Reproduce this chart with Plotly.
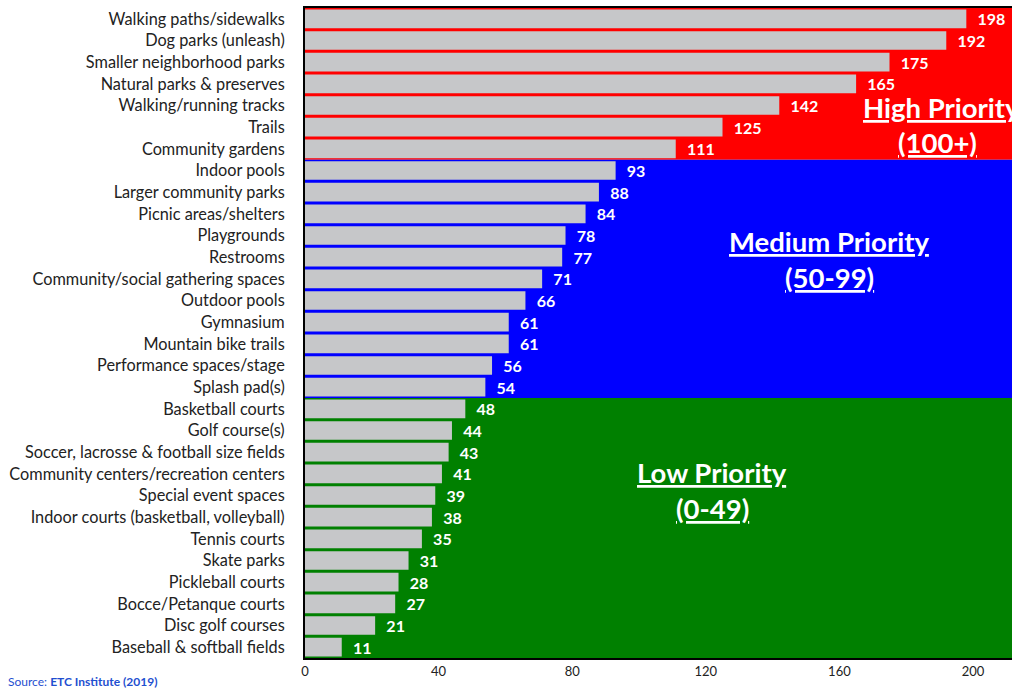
import plotly.graph_objects as go

categories = [
    "Walking paths/sidewalks", "Dog parks (unleash)", "Smaller neighborhood parks",
    "Natural parks & preserves", "Walking/running tracks", "Trails", "Community gardens",
    "Indoor pools", "Larger community parks", "Picnic areas/shelters", "Playgrounds",
    "Restrooms", "Community/social gathering spaces", "Outdoor pools", "Gymnasium",
    "Mountain bike trails", "Performance spaces/stage", "Splash pad(s)",
    "Basketball courts", "Golf course(s)", "Soccer, lacrosse & football size fields",
    "Community centers/recreation centers", "Special event spaces",
    "Indoor courts (basketball, volleyball)", "Tennis courts", "Skate parks",
    "Pickleball courts", "Bocce/Petanque courts", "Disc golf courses",
    "Baseball & softball fields",
]
values = [198, 192, 175, 165, 142, 125, 111, 93, 88, 84, 78, 77, 71, 66, 61, 61, 56, 54,
          48, 44, 43, 41, 39, 38, 35, 31, 28, 27, 21, 11]
tick_vals = [0, 40, 80, 120, 160, 200]

groups = [("High", 0, 7, "#FF0000"), ("Medium", 7, 18, "#0000FF"), ("Low", 18, 30, "#008000")]

FONT = "Lato, Carlito, Calibri, sans-serif"

L, T, B = 305, 8, 31
W, H = 1012, 689
plot_w = W - L
plot_h = H - T - B
px_per_unit = 3.34

fig = go.Figure()
fig.add_trace(go.Bar(
    x=values, y=categories, orientation="h",
    marker=dict(color="#C6C7C9", line=dict(width=0)),
    width=0.86,
    text=values, texttemplate="\u00a0\u00a0<b>%{x}</b>", textposition="outside",
    constraintext="none",
    textfont=dict(color="white", size=16, family=FONT),
    cliponaxis=False,
))

shapes = []
for name, a, b, col in groups:
    shapes.append(dict(type="rect", xref="paper", yref="y", x0=0, x1=1,
                       y0=a - 0.5, y1=b - 0.5, fillcolor=col, line=dict(width=0),
                       layer="below"))
fig.update_layout(shapes=shapes)

ann_font = dict(color="white", size=27.5, family=FONT)
anns = [
    ("<b><u>High Priority</u></b>", 190.5, 4.1),
    ("<b><u>(100+)</u></b>", 189.5, 5.72),
    ("<b><u>Medium Priority</u></b>", 156.9, 10.27),
    ("<b><u>(50-99)</u></b>", 156.9, 11.92),
    ("<b><u>Low Priority</u></b>", 121.9, 20.94),
    ("<b><u>(0-49)</u></b>", 121.9, 22.59),
]
for t, x, y in anns:
    fig.add_annotation(text=t, x=x, y=y, xref="x", yref="y", showarrow=False,
                       font=ann_font, xanchor="center", yanchor="middle")

fig.add_annotation(text="Source: <b>ETC Institute (2019)</b>", xref="paper", yref="paper",
                   x=-(L - 6) / plot_w, y=-14 / plot_h,
                   xanchor="left", yanchor="top", showarrow=False,
                   font=dict(color="#1F4FD0", size=12, family=FONT))

fig.update_layout(
    width=W, height=H,
    margin=dict(l=L, r=0, t=T, b=B, autoexpand=False),
    paper_bgcolor="white", plot_bgcolor="white",
    showlegend=False, bargap=0.14,
    xaxis=dict(range=[0, plot_w / px_per_unit], tickvals=tick_vals, showgrid=False, zeroline=False,
               showline=True, linecolor="black", linewidth=2, mirror=True, automargin=False,
               ticks="", tickfont=dict(size=13, color="#222", family=FONT)),
    yaxis=dict(categoryorder="array", categoryarray=categories, autorange="reversed",
               showgrid=False, zeroline=False, showline=True, linecolor="black", linewidth=2,
               ticks="", ticklabelstandoff=15, automargin=False,
               tickfont=dict(size=16.3, color="#222", family=FONT)),
    font=dict(family=FONT),
)

fig.write_html(
    "out.html",
    config={"displayModeBar": False},
    post_script="document.body.style.margin='0';document.body.style.overflow='hidden';",
)
